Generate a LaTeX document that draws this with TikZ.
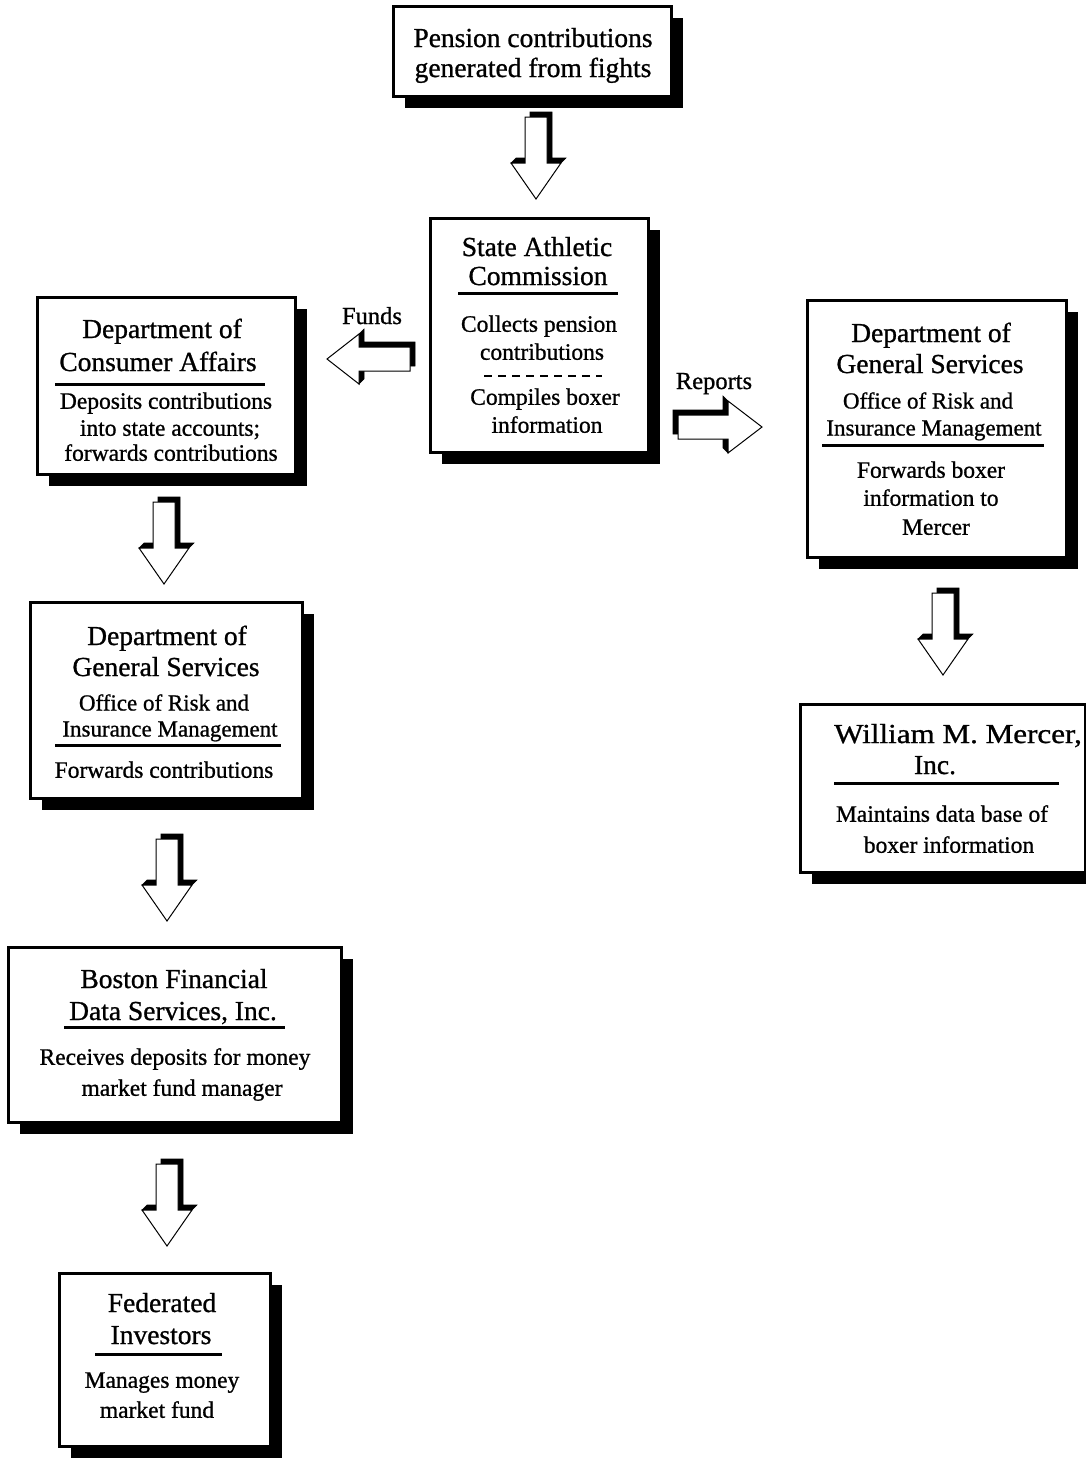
\documentclass[tikz,border=0pt]{standalone}
\usepackage{fontspec}
\setmainfont{Liberation Serif}[FakeBold=0.9]
\usetikzlibrary{shadows}
\tikzset{
  frame/.style={draw, line width=3pt, fill=white,
    drop shadow={shadow xshift=12pt, shadow yshift=-12pt, fill=black, opacity=1}},
  hd/.style={font=\fontsize{27.5}{30}\selectfont, inner sep=0pt, text height=18pt, text depth=0pt},
  bd/.style={font=\fontsize{23.5}{26}\selectfont, inner sep=0pt, text height=15.5pt, text depth=0pt},
  sb/.style={font=\fontsize{23}{26}\selectfont, inner sep=0pt, text height=15pt, text depth=0pt},
  lbl/.style={font=\fontsize{24.5}{27}\selectfont, inner sep=0pt, text height=16pt, text depth=0pt},
  rule/.style={line width=3pt},
  dashrule/.style={line width=2pt, dash pattern=on 8pt off 6pt},
  arrowbody/.style={fill=white, draw=black, line width=1pt, line join=miter},
  arrowshade/.style={fill=black, draw=black, line width=0.6pt}
}
\newcommand{\DownBlock}[2]{%
  \begin{scope}[shift={(#1,#2)}]
    \fill[arrowshade] (-25,46) -- (-20,41) -- (-6,41) -- (-6,-5) -- (16,-5) -- (16,41) -- (30,41) -- (25,46) -- cycle;
    \filldraw[arrowbody] (-11,0) -- (11,0) -- (11,46) -- (25,46) -- (0,82) -- (-25,46) -- (-11,46) -- cycle;
  \end{scope}}
\begin{document}
\begin{tikzpicture}[x=1pt,y=-1pt]
\useasboundingbox (0,0) rectangle (1086,1462);
\clip (0,0) rectangle (1086,1462);

% ---------- frames ----------
\node[frame, minimum width=278pt, minimum height=90pt] (pension) at (532,51) {};
\node[frame, minimum width=218pt, minimum height=234pt] (sac) at (539,335) {};
\node[frame, minimum width=258pt, minimum height=177pt] (dca) at (166,385.5) {};
\node[frame, minimum width=272pt, minimum height=196pt] (dgsl) at (166,700) {};
\node[frame, minimum width=333pt, minimum height=175pt] (bfds) at (174.5,1034.5) {};
\node[frame, minimum width=211pt, minimum height=173pt] (fed) at (164.5,1359.5) {};
\node[frame, minimum width=259pt, minimum height=257pt] (dgsr) at (936.5,428.5) {};
\node[frame, minimum width=285pt, minimum height=168pt] (mercer) at (942.5,788) {};

% ---------- pension ----------
\node[hd] (p1) at (533,38) {Pension contributions};
\node[hd] (p2) at (533,68) {generated from fights};

% ---------- State Athletic Commission ----------
\node[hd] (s1) at (537,247) {State Athletic};
\node[hd] (s2) at (538,276) {Commission};
\draw[rule] (458,293) -- (618,293);
\node[bd] (s3) at (539,324) {Collects pension};
\node[bd] (s4) at (542,352) {contributions};
\draw[dashrule] (484,376) -- (602,376);
\node[bd] (s5) at (545,397) {Compiles boxer};
\node[bd] (s6) at (547,425) {information};

% ---------- Consumer Affairs ----------
\node[hd] (c1) at (162,329) {Department of};
\node[hd] (c2) at (158,362) {Consumer Affairs};
\draw[rule] (55,384) -- (265,384);
\node[bd] (c3) at (166,401) {Deposits contributions};
\node[bd] (c4) at (170,428) {into state accounts;};
\node[bd] (c5) at (171,453) {forwards contributions};

% ---------- DGS left ----------
\node[hd] (g1) at (167,636) {Department of};
\node[hd] (g2) at (166,667) {General Services};
\node[sb] (g3) at (164,703) {Office of Risk and};
\node[sb] (g4) at (170,729) {Insurance Management};
\draw[rule] (55,745) -- (281,745);
\node[bd] (g5) at (164,770) {Forwards contributions};

% ---------- Boston Financial ----------
\node[hd] (b1) at (174,979) {Boston Financial};
\node[hd] (b2) at (173,1011) {Data Services, Inc.};
\draw[rule] (64,1027) -- (285,1027);
\node[bd] (b3) at (175,1057) {Receives deposits for money};
\node[bd] (b4) at (182,1088) {market fund manager};

% ---------- Federated ----------
\node[hd] (f1) at (162,1303) {Federated};
\node[hd] (f2) at (161,1335) {Investors};
\draw[rule] (95,1354) -- (222,1354);
\node[bd] (f3) at (162,1380) {Manages money};
\node[bd] (f4) at (157,1410) {market fund};

% ---------- DGS right ----------
\node[hd] (r1) at (931,333) {Department of};
\node[hd] (r2) at (930,364) {General Services};
\node[sb] (r3) at (928,401) {Office of Risk and};
\node[sb] (r4) at (934,428) {Insurance Management};
\draw[rule] (822,445) -- (1044,445);
\node[bd] (r5) at (931,470) {Forwards boxer};
\node[bd] (r6) at (931,498) {information to};
\node[bd] (r7) at (936,527) {Mercer};

% ---------- Mercer ----------
\node[hd] (m1) at (958,734) {\scalebox{1.13}[1]{William M. Mercer,}};
\node[hd] (m2) at (935,765) {Inc.};
\draw[rule] (834,783) -- (1059,783);
\node[bd] (m3) at (942,814) {Maintains data base of};
\node[bd] (m4) at (949,845) {boxer information};

% ---------- labels ----------
\node[lbl] (funds) at (372,316) {Funds};
\node[lbl] (reports) at (714,381) {Reports};

% ---------- down block arrows ----------
\DownBlock{536}{117}
\DownBlock{164}{502}
\DownBlock{167}{839}
\DownBlock{167}{1164}
\DownBlock{943}{593}

% ---------- Funds arrow (left) ----------
\fill[arrowshade] (359,334) -- (364,329) -- (364,342) -- (415,342) -- (415,366) -- (364,366) -- (364,379) -- (359,384) -- cycle;
\filldraw[arrowbody] (410,347) -- (359,347) -- (359,334) -- (327,359) -- (359,384) -- (359,371) -- (410,371) -- cycle;

% ---------- Reports arrow (right) ----------
\fill[arrowshade] (728,401) -- (723,396) -- (723,410) -- (673,410) -- (673,434) -- (723,434) -- (723,448) -- (728,453) -- cycle;
\filldraw[arrowbody] (678,415) -- (728,415) -- (728,401) -- (762,427) -- (728,453) -- (728,439) -- (678,439) -- cycle;

\end{tikzpicture}
\end{document}
